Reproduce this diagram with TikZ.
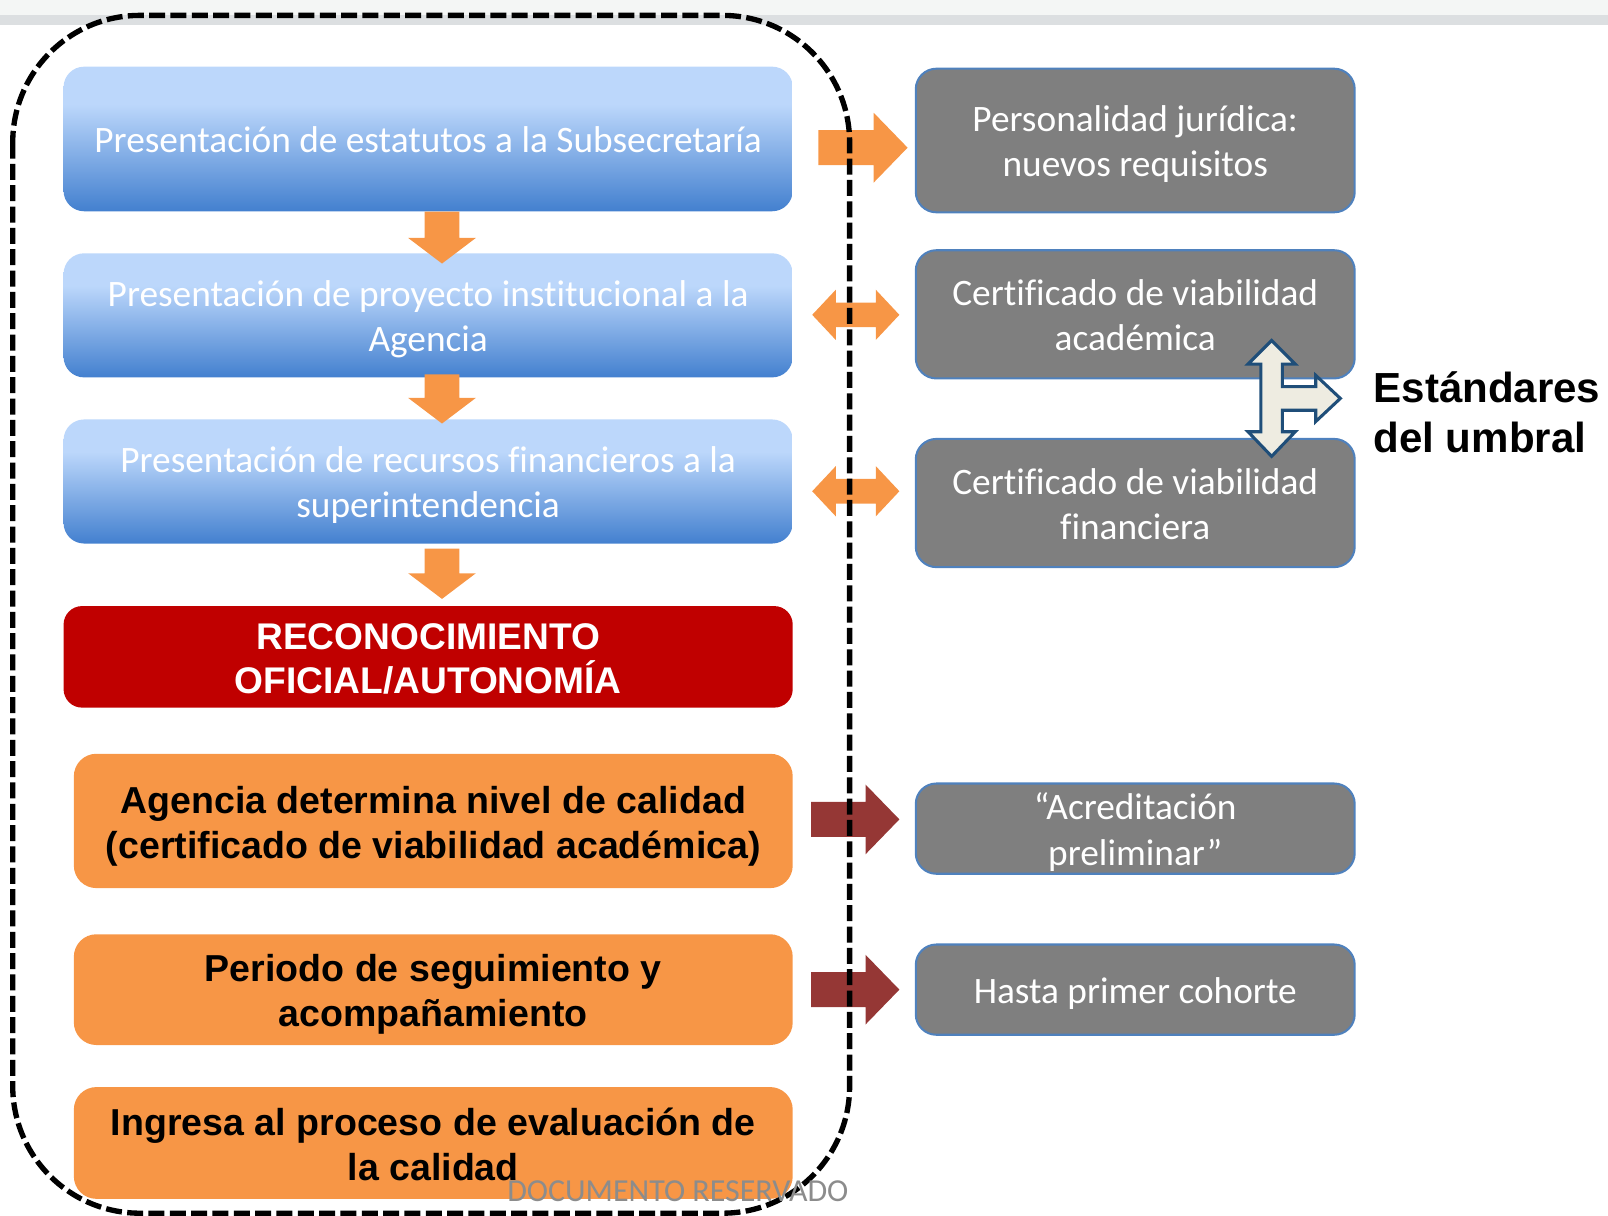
\documentclass[tikz,border=0pt]{standalone}
\usepackage{fontspec}
\setmainfont{Carlito}[Ligatures=NoCommon]
\newfontfamily\arialfont{Liberation Sans}
\usepackage{tikz}
\usetikzlibrary{calc}
\usetikzlibrary{positioning}

\definecolor{boxtop}{HTML}{BCD7FB}
\definecolor{boxbot}{HTML}{4380CF}
\definecolor{stepgray}{HTML}{7F7F7F}
\definecolor{edgeblue}{HTML}{4F81BD}
\definecolor{recred}{HTML}{C00000}
\definecolor{flowor}{HTML}{F79646}
\definecolor{darkred}{HTML}{953735}
\definecolor{crossfill}{HTML}{EEECE1}
\definecolor{crossedge}{HTML}{1F4E79}
\definecolor{bandlight}{HTML}{F4F6F5}
\definecolor{bandgray}{HTML}{DCDFE1}
\definecolor{stampgray}{HTML}{8C8C8C}

\pgfdeclareverticalshading{bluebox}{100bp}{color(0bp)=(boxbot); color(25bp)=(boxbot); color(62bp)=(boxtop); color(100bp)=(boxtop)}

\begin{document}
\begin{tikzpicture}[
  x=0.5pt, y=-0.5pt,
  bluestep/.style = {rounded corners=10pt, shading=bluebox, text=white, inner sep=0pt,
    align=center, minimum width=355.5pt, font=\fontsize{18.2}{22}\selectfont,
    text height=35.5pt, text depth=0pt},
  recbox/.style = {rounded corners=9pt, fill=recred, text=white, inner sep=0pt,
    align=center, minimum width=355.5pt, font=\arialfont\bfseries\fontsize{18.1}{21.5}\selectfont,
    text height=35.9pt, text depth=0pt},
  orbox/.style = {rounded corners=11pt, fill=flowor, text=black, inner sep=0pt,
    align=center, minimum width=350.5pt, font=\arialfont\bfseries\fontsize{18.3}{22}\selectfont,
    text height=36.4pt, text depth=0pt},
  graybox/.style = {rounded corners=10pt, fill=stepgray, draw=edgeblue, line width=1pt,
    text=white, inner sep=0pt, align=center, minimum width=214pt, font=\fontsize{18.2}{22}\selectfont,
    text height=35.5pt, text depth=0pt},
  one line/.style = {text height=13.5pt},
  down block/.style = {to path={($(\tikztostart)+(-17,0)$) -- ($(\tikztostart)+(17,0)$)
    -- ($(\tikztotarget)+(17,-25)$) -- ($(\tikztotarget)+(33,-25)$) -- (\tikztotarget)
    -- ($(\tikztotarget)+(-33,-25)$) -- ($(\tikztotarget)+(-17,-25)$) -- cycle}},
  right block/.style = {to path={($(\tikztostart)+(0,-17)$) -- ($(\tikztotarget)+(-33,-17)$)
    -- ($(\tikztotarget)+(-33,-34)$) -- (\tikztotarget) -- ($(\tikztotarget)+(-33,34)$)
    -- ($(\tikztotarget)+(-33,17)$) -- ($(\tikztostart)+(0,17)$) -- cycle}},
  twin block/.style = {to path={(\tikztostart) -- ($(\tikztostart)+(23,-24.5)$)
    -- ($(\tikztostart)+(23,-12)$) -- ($(\tikztotarget)+(-23,-12)$) -- ($(\tikztotarget)+(-23,-24.5)$)
    -- (\tikztotarget) -- ($(\tikztotarget)+(-23,24.5)$) -- ($(\tikztotarget)+(-23,12)$)
    -- ($(\tikztostart)+(23,12)$) -- ($(\tikztostart)+(23,24.5)$) -- cycle}}
  ]
	\useasboundingbox (0,0) rectangle (1568,1185);
	\fill[bandlight] (0,0) rectangle (1568,14.6);
	\fill[bandgray] (0,14.6) rectangle (1568,24.4);

	% left column
	\node[bluestep, one line, minimum height=70.5pt] (b1) at (417.5,135.5) {Presentación de estatutos a la Subsecretaría};
	\node[bluestep, minimum height=60.5pt] (b2) at (417.5,307.5) {Presentación de proyecto institucional a la\\Agencia};
	\node[bluestep, minimum height=60.5pt] (b3) at (417.5,469.5) {Presentación de recursos financieros a la\\superintendencia};
	\node[recbox, minimum height=49.5pt] (rec) at (417.5,640.5) {RECONOCIMIENTO\\OFICIAL/AUTONOMÍA};
	\node[orbox, minimum height=65.5pt] (q1) at (422.5,800.5) {Agencia determina nivel de calidad\\(certificado de viabilidad académica)};
	\node[orbox, minimum height=54pt] (q2) at (422.5,965) {Periodo de seguimiento y\\acompañamiento};
	\node[orbox, minimum height=54.5pt] (q3) at (422.5,1114.5) {Ingresa al proceso de evaluación de\\la calidad};

	% right column
	\node[graybox, minimum height=70pt] (g1) at (1107,137) {Personalidad jurídica:\\nuevos requisitos};
	\node[graybox, minimum height=62.5pt] (g2) at (1107,306.5) {Certificado de viabilidad\\académica};
	\node[graybox, minimum height=62.5pt] (g3) at (1107,490.5) {Certificado de viabilidad\\financiera};
	\node[graybox, minimum height=44pt] (g4) at (1107,808) {“Acreditación\\preliminar”};
	\node[graybox, one line, minimum height=44pt] (g5) at (1107,965) {Hasta primer cohorte};

	\node[anchor=west, align=left, inner sep=0pt, font=\arialfont\bfseries\fontsize{20.5}{24.5}\selectfont] (std) at (1339,402) {Estándares\\del umbral};

	\coordinate (@d1a) at (b1.south -| 431,0);
	\coordinate (@d1b) at (431,257);
	\coordinate (@d2a) at (431,365);
	\coordinate (@d2b) at (431,413);
	\coordinate (@d3a) at (431,535);
	\coordinate (@d3b) at (431,584);
	\coordinate (@r1a) at (798,144);
	\coordinate (@r1b) at (885,144);
	\coordinate (@t1a) at (792,307);
	\coordinate (@t1b) at (877,307);
	\coordinate (@t2a) at (792,479);
	\coordinate (@t2b) at (877,479);
	\coordinate (@r2a) at (791,799);
	\coordinate (@r2b) at (877,799);
	\coordinate (@r3a) at (791,965);
	\coordinate (@r3b) at (877,965);

	\fill[flowor] (@d1a) to[down block] (@d1b);
	\fill[flowor] (@d2a) to[down block] (@d2b);
	\fill[flowor] (@d3a) to[down block] (@d3b);
	\fill[flowor] (@r1a) to[right block] (@r1b);
	\fill[flowor] (@t1a) to[twin block] (@t1b);
	\fill[flowor] (@t2a) to[twin block] (@t2b);
	\fill[darkred] (@r2a) to[right block] (@r2b);
	\fill[darkred] (@r3a) to[right block] (@r3b);

	% arrow between the two certificates
	\filldraw[fill=crossfill, draw=crossedge, line width=1.5pt] (1240,332) -- (1263,355) -- (1250.5,355)
	  -- (1250.5,377) -- (1283,377) -- (1283,366) -- (1307,388.5) -- (1283,411) -- (1283,400)
	  -- (1250.5,400) -- (1250.5,421) -- (1263,421) -- (1240,445) -- (1217,421) -- (1229.5,421)
	  -- (1229.5,355) -- (1217,355) -- cycle;

	\draw[line width=2.6pt, dash pattern=on 7.8pt off 2.6pt, rounded corners=62pt] (12.4,15) rectangle (828.5,1183);

	\node[anchor=base, inner sep=0pt, text=stampgray, font=\fontsize{15.6}{19}\selectfont] (stamp) at (661,1172) {DOCUMENTO RESERVADO};

\end{tikzpicture}
\end{document}
